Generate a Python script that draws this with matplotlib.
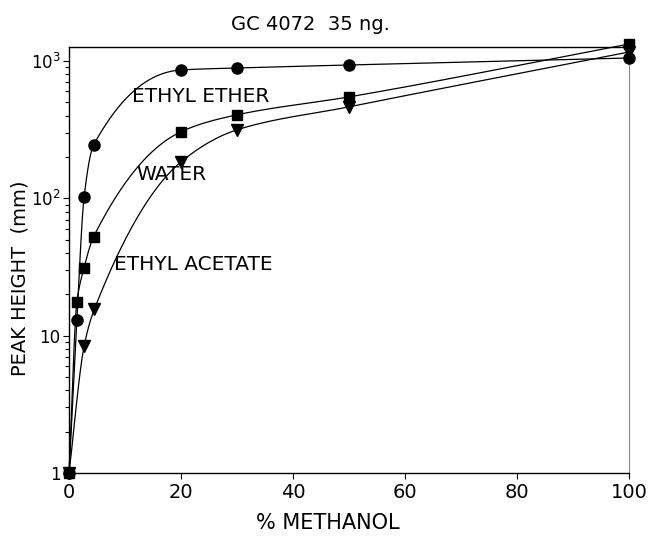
import numpy as np
import matplotlib
matplotlib.use('Agg')
import matplotlib.pyplot as plt

# values (x = % methanol, y = peak height in mm)
x_ether = [0, 1.4, 2.7, 4.4, 20, 30, 50, 100]
y_ether = [1, 13.1, 103, 245, 859, 888, 934, 1050]

x_water = [0, 1.4, 2.7, 4.4, 20, 30, 50, 100]
y_water = [1, 17.5, 31.3, 52.6, 305, 405, 547, 1327]

x_acet = [0, 2.7, 4.5, 20, 30, 50, 100]
y_acet = [1, 8.4, 15.5, 184, 315, 463, 1161]

labels = ["ETHYL ETHER", "WATER", "ETHYL ACETATE"]
xticks = [0, 20, 40, 60, 80, 100]
yticks = [1, 10, 100, 1000]
yticklabels = ["1", "10", "$10^2$", "$10^3$"]


def pchip(x, y, xs):
    # monotone cubic (Fritsch-Carlson) so the drawn curve is smooth like the hand-drawn one
    x = np.asarray(x, float)
    y = np.asarray(y, float)
    h = np.diff(x)
    d = np.diff(y) / h
    m = np.zeros_like(y)
    m[0], m[-1] = d[0], d[-1]
    for k in range(1, len(x) - 1):
        if d[k - 1] * d[k] > 0:
            w1 = 2 * h[k] + h[k - 1]
            w2 = h[k] + 2 * h[k - 1]
            m[k] = (w1 + w2) / (w1 / d[k - 1] + w2 / d[k])
    idx = np.clip(np.searchsorted(x, xs) - 1, 0, len(x) - 2)
    t = (xs - x[idx]) / h[idx]
    h00 = 2 * t**3 - 3 * t**2 + 1
    h10 = t**3 - 2 * t**2 + t
    h01 = -2 * t**3 + 3 * t**2
    h11 = t**3 - t**2
    return h00 * y[idx] + h10 * h[idx] * m[idx] + h01 * y[idx + 1] + h11 * h[idx] * m[idx + 1]


fig = plt.figure(figsize=(6.53, 5.38), dpi=100)
ax = fig.add_axes([0.1057, 0.1208, 0.8576, 0.7918])

for xs_, ys_, mk, ms in [(x_ether, y_ether, 'o', 8),
                         (x_water, y_water, 's', 7),
                         (x_acet, y_acet, 'v', 8)]:
    xf = np.linspace(0, 100, 2000)
    yf = 10 ** pchip(xs_, np.log10(ys_), xf)
    ax.plot(xf, yf, color='black', lw=0.9, clip_on=False)
    ax.plot(xs_, ys_, linestyle='none', marker=mk, ms=ms, color='black', clip_on=False, zorder=5)

ax.set_yscale('log')
ax.set_xlim(0, 100)
ax.set_ylim(1, 1262)
ax.set_xticks(xticks)
ax.set_yticks(yticks)
ax.set_yticklabels(yticklabels)
ax.tick_params(axis='y', which='major', direction='out', length=4, width=0.8, labelsize=12, pad=2)
ax.tick_params(axis='y', which='minor', direction='out', length=3, width=0.8)
ax.tick_params(axis='x', which='major', direction='out', length=4, width=0.8, labelsize=14, pad=3)

for s in ['left', 'bottom', 'top']:
    ax.spines[s].set_linewidth(1.0)
ax.spines['right'].set_color('#888888')
ax.spines['right'].set_linewidth(0.8)

ax.text(11.3, 547, labels[0], fontsize=14.5, va='center', ha='left')
ax.text(12.0, 148, labels[1], fontsize=14.5, va='center', ha='left')
ax.text(8.0, 33, labels[2], fontsize=14.5, va='center', ha='left')

fig.text(0.476, 0.955, "GC 4072  35 ng.", fontsize=14, ha='center', va='center')
fig.text(0.502, 0.027, "% METHANOL", fontsize=15, ha='center', va='center')
fig.text(0.03, 0.483, "PEAK HEIGHT  (mm)", fontsize=14, ha='center', va='center', rotation=90)

fig.savefig('out.png', dpi=100)
